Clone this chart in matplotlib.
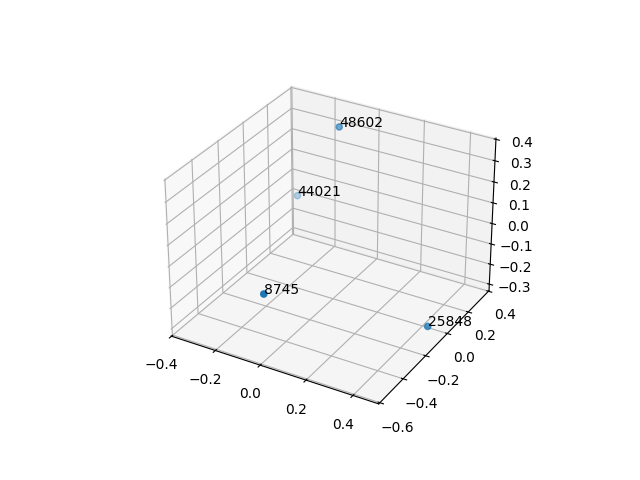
#!/usr/bin/env python3
import matplotlib

matplotlib.use("Agg")
from matplotlib import pyplot as plt  # noqa: E402

labels = ["48602", "44021", "8745", "25848"]
xs = [-0.099, -0.344, -0.014, 0.450]
ys = [0.246, 0.341, -0.545, -0.06]
zs = [0.359, -0.089, -0.032, -0.286]

fig = plt.figure()
ax = fig.add_subplot(111, projection="3d")
ax.scatter(xs, ys, zs)
for x, y, z, label in zip(xs, ys, zs, labels):
    ax.text(x, y, z, label)
fig.savefig("out.png", dpi=100)
